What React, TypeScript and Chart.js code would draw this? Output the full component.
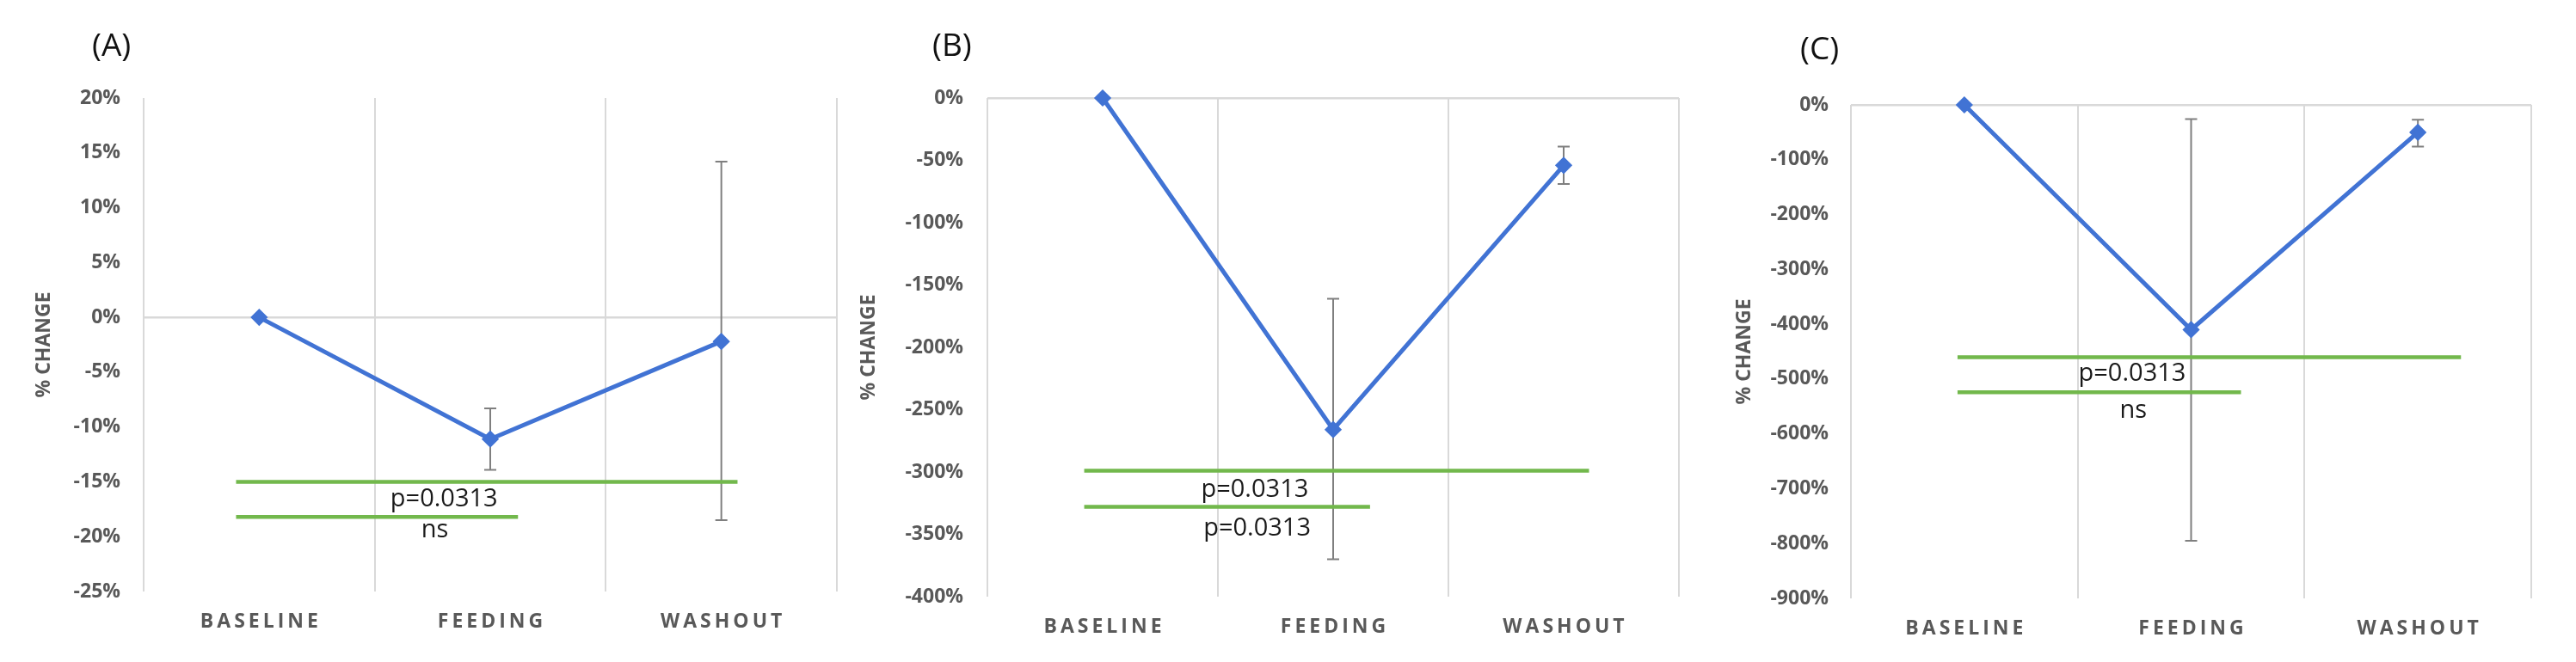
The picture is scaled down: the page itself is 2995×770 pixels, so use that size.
import React, { useEffect, useRef } from 'react';
import { Chart, registerables } from 'chart.js';

Chart.register(...registerables);

// ---------- data ----------
const CATEGORIES = ['BASELINE', 'FEEDING', 'WASHOUT'];
const PANEL_LABELS = ['(A)', '(B)', '(C)'];
const Y_TITLE = '% CHANGE';

// Panel A
const A_MEAN = [0, -11.1, -2.2];
const A_ERR_HIGH = [null, -8.3, 14.2];
const A_ERR_LOW = [null, -13.9, -18.5];
const A_Y_RANGE = [-25, 20, 5];
const A_SIG_Y = [-15, -18.2];
const A_SIG_FROM = [-0.1, -0.1];
const A_SIG_TO = [2.07, 1.12];
const A_SIG_TEXT = ['p=0.0313', 'ns'];
const A_SIG_TEXT_X = [0.8, 0.76];
const A_SIG_TEXT_Y = [-16.6, -19.4];

// Panel B
const B_MEAN = [0, -266, -54];
const B_ERR_HIGH = [null, -161, -39];
const B_ERR_LOW = [null, -370, -69];
const B_Y_RANGE = [-400, 0, 50];
const B_SIG_Y = [-299, -328];
const B_SIG_FROM = [-0.08, -0.08];
const B_SIG_TO = [2.11, 1.16];
const B_SIG_TEXT = ['p=0.0313', 'p=0.0313'];
const B_SIG_TEXT_X = [0.66, 0.67];
const B_SIG_TEXT_Y = [-314, -345];

// Panel C
const C_MEAN = [0, -410, -50];
const C_ERR_HIGH = [null, -26, -27];
const C_ERR_LOW = [null, -795, -76];
const C_Y_RANGE = [-900, 0, 100];
const C_SIG_Y = [-460, -524];
const C_SIG_FROM = [-0.03, -0.03];
const C_SIG_TO = [2.19, 1.22];
const C_SIG_TEXT = ['p=0.0313', 'ns'];
const C_SIG_TEXT_X = [0.74, 0.745];
const C_SIG_TEXT_Y = [-490, -558];

// ---------- styles / layout ----------
const FONT = '"Open Sans", "Noto Sans", sans-serif';
const BLUE = '#4173D4';
const GREEN = '#72B84C';
const GRID = '#d9d9d9';
const AXIS_TEXT = '#595959';
const ERR_COLOR = '#7f7f7f';
const AXIS_FONT_SIZE = 23;

type PanelData = {
  mean: number[];
  high: (number | null)[];
  low: (number | null)[];
  yRange: number[];
  sigY: number[];
  sigFrom: number[];
  sigTo: number[];
  sigText: string[];
  sigTextX: number[];
  sigTextY: number[];
};

type PanelLayout = {
  left: number;
  width: number;
  chartLeft: number;
  chartRight: number;
  chartTop: number;
  chartBottom: number;
  titleX: number;
  tickRight: number;
  labelLeft: number;
  labelTop: number;
};

const PANELS: PanelData[] = [
  { mean: A_MEAN, high: A_ERR_HIGH, low: A_ERR_LOW, yRange: A_Y_RANGE, sigY: A_SIG_Y, sigFrom: A_SIG_FROM, sigTo: A_SIG_TO, sigText: A_SIG_TEXT, sigTextX: A_SIG_TEXT_X, sigTextY: A_SIG_TEXT_Y },
  { mean: B_MEAN, high: B_ERR_HIGH, low: B_ERR_LOW, yRange: B_Y_RANGE, sigY: B_SIG_Y, sigFrom: B_SIG_FROM, sigTo: B_SIG_TO, sigText: B_SIG_TEXT, sigTextX: B_SIG_TEXT_X, sigTextY: B_SIG_TEXT_Y },
  { mean: C_MEAN, high: C_ERR_HIGH, low: C_ERR_LOW, yRange: C_Y_RANGE, sigY: C_SIG_Y, sigFrom: C_SIG_FROM, sigTo: C_SIG_TO, sigText: C_SIG_TEXT, sigTextX: C_SIG_TEXT_X, sigTextY: C_SIG_TEXT_Y },
];

const LAYOUTS: PanelLayout[] = [
  { left: 0, width: 1000, chartLeft: 167, chartRight: 973, chartTop: 114, chartBottom: 688, titleX: 51, tickRight: 140, labelLeft: 107, labelTop: 32 },
  { left: 990, width: 1005, chartLeft: 1148, chartRight: 1952, chartTop: 114, chartBottom: 694, titleX: 1010, tickRight: 1120, labelLeft: 1084, labelTop: 32 },
  { left: 1995, width: 1000, chartLeft: 2152, chartRight: 2943, chartTop: 122, chartBottom: 696, titleX: 2028, tickRight: 2126, labelLeft: 2093, labelTop: 36 },
];

const HEIGHT = 770;

function Panel({ data, layout }: { data: PanelData; layout: PanelLayout }) {
  const ref = useRef<HTMLCanvasElement>(null);

  useEffect(() => {
    const canvas = ref.current;
    if (!canvas) return;
    const lineHeight = AXIS_FONT_SIZE * 1.2;
    const yAxisWidth = layout.chartLeft - layout.left;
    const padRight = layout.left + layout.width - layout.chartRight;
    const xAxisHeight = HEIGHT - layout.chartBottom;
    const titlePad = layout.titleX - layout.left - lineHeight / 2;
    const tickPad = layout.chartLeft - layout.tickRight;

    const errorBars = {
      id: 'errorBars',
      beforeDatasetsDraw(chart: any) {
        const { ctx } = chart;
        const x = chart.scales.x;
        const y = chart.scales.y;
        ctx.save();
        ctx.strokeStyle = ERR_COLOR;
        ctx.lineWidth = 2;
        data.high.forEach((h, i) => {
          const l = data.low[i];
          if (h == null || l == null) return;
          const px = x.getPixelForValue(i);
          const yt = y.getPixelForValue(h);
          const yb = y.getPixelForValue(l);
          ctx.beginPath();
          ctx.moveTo(px, yt);
          ctx.lineTo(px, yb);
          ctx.moveTo(px - 7, yt);
          ctx.lineTo(px + 7, yt);
          ctx.moveTo(px - 7, yb);
          ctx.lineTo(px + 7, yb);
          ctx.stroke();
        });
        ctx.restore();
      },
    };

    const sigLabels = {
      id: 'sigLabels',
      afterDatasetsDraw(chart: any) {
        const { ctx } = chart;
        const x2 = chart.scales.x2;
        const y = chart.scales.y;
        ctx.save();
        ctx.font = `29px ${FONT}`;
        ctx.fillStyle = '#1a1a1a';
        ctx.textAlign = 'center';
        ctx.textBaseline = 'middle';
        data.sigText.forEach((t, i) => {
          ctx.fillText(t, x2.getPixelForValue(data.sigTextX[i]), y.getPixelForValue(data.sigTextY[i]));
        });
        ctx.restore();
      },
    };

    const spacedLabels = {
      id: 'spacedLabels',
      beforeDraw(chart: any) {
        const sc = chart.scales.x;
        if (!sc || sc.__spaced) return;
        const orig = sc.drawLabels.bind(sc);
        sc.drawLabels = (area: any) => {
          const ctx = chart.ctx;
          ctx.save();
          ctx.translate(2, 0);
          ctx.letterSpacing = '4px';
          orig(area);
          ctx.restore();
        };
        sc.__spaced = true;
      },
    };

    const datasets: any[] = [
      {
        data: data.mean,
        xAxisID: 'x',
        yAxisID: 'y',
        borderColor: BLUE,
        backgroundColor: BLUE,
        borderWidth: 5,
        pointStyle: 'rectRot',
        pointRadius: 8,
        pointBorderWidth: 3,
        pointBackgroundColor: BLUE,
        pointBorderColor: BLUE,
        tension: 0,
        clip: false,
      },
      ...data.sigY.map((yv, i) => ({
        data: [
          { x: data.sigFrom[i], y: yv },
          { x: data.sigTo[i], y: yv },
        ],
        xAxisID: 'x2',
        yAxisID: 'y',
        borderColor: GREEN,
        backgroundColor: GREEN,
        borderWidth: 4.5,
        pointRadius: 0,
        clip: false,
      })),
    ];

    const chart = new Chart(canvas, {
      type: 'line',
      data: { labels: CATEGORIES, datasets },
      plugins: [errorBars, sigLabels, spacedLabels],
      options: {
        animation: false,
        responsive: false,
        maintainAspectRatio: false,
        layout: { padding: { left: 0, top: layout.chartTop, right: padRight, bottom: 0 } },
        plugins: {
          legend: { display: false },
          tooltip: { enabled: false },
        },
        scales: {
          x: {
            type: 'category',
            offset: true,
            grid: { offset: true, color: GRID, lineWidth: 2, drawTicks: false },
            border: { display: false },
            ticks: {
              color: AXIS_TEXT,
              font: { family: FONT, size: AXIS_FONT_SIZE, weight: 'bold' },
              padding: 22,
              maxRotation: 0,
              autoSkip: false,
            },
            afterFit: (s: any) => {
              s.height = xAxisHeight;
            },
          },
          x2: { type: 'linear', display: false, min: -0.5, max: 2.5 },
          y: {
            type: 'linear',
            min: data.yRange[0],
            max: data.yRange[1],
            ticks: {
              stepSize: data.yRange[2],
              callback: (v: any) => `${Math.round(Number(v))}%`,
              color: AXIS_TEXT,
              font: { family: FONT, size: AXIS_FONT_SIZE, weight: 'bold' },
              padding: tickPad,
            },
            grid: {
              color: (c: any) => (c.tick && Math.abs(c.tick.value) < 1e-9 ? GRID : 'rgba(0,0,0,0)'),
              lineWidth: 2.5,
              drawTicks: false,
            },
            border: { display: false },
            title: {
              display: true,
              text: Y_TITLE,
              color: AXIS_TEXT,
              font: { family: FONT, size: AXIS_FONT_SIZE, weight: 'bold' },
              padding: { top: titlePad, bottom: 0 },
            },
            afterFit: (s: any) => {
              s.width = yAxisWidth;
            },
          },
        },
      } as any,
    });
    return () => chart.destroy();
  }, [data, layout]);

  return (
    <canvas
      ref={ref}
      width={layout.width}
      height={HEIGHT}
      style={{ position: 'absolute', left: layout.left, top: 0, width: layout.width, height: HEIGHT }}
    />
  );
}

export default function App() {
  return (
    <div style={{ position: 'absolute', left: 0, top: 0, width: 2995, height: HEIGHT, background: '#ffffff', overflow: 'hidden' }}>
      {PANELS.map((p, i) => (
        <Panel key={i} data={p} layout={LAYOUTS[i]} />
      ))}
      {PANEL_LABELS.map((t, i) => (
        <div
          key={'l' + i}
          style={{
            position: 'absolute',
            left: LAYOUTS[i].labelLeft,
            top: LAYOUTS[i].labelTop,
            fontFamily: FONT,
            fontSize: 37,
            lineHeight: '37px',
            color: '#111',
            whiteSpace: 'nowrap',
          }}
        >
          {t}
        </div>
      ))}
    </div>
  );
}
